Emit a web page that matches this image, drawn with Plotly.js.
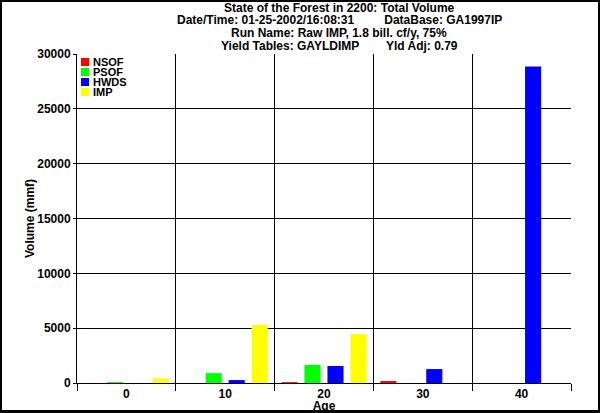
<!DOCTYPE html>
<html>
<head>
<meta charset="utf-8">
<script src="https://cdn.plot.ly/plotly-3.0.1.min.js"></script>
<style>
html,body{margin:0;padding:0;background:#fff;}
#wrap{position:relative;width:600px;height:413px;}
#chart{width:600px;height:413px;}
#frame{position:absolute;left:0;top:0;width:600px;height:413px;box-sizing:border-box;border-style:solid;border-color:#000;border-width:2px 2px 3px 2px;pointer-events:none;}
</style>
</head>
<body>
<div id="wrap"><div id="chart"></div><div id="frame"></div></div>
<script>
const ages = ['0', '10', '20', '30', '40'];
const seriesNames = ['NSOF', 'PSOF', 'HWDS', 'IMP'];
const NSOF = [0, 0, 80, 180, 0];
const PSOF = [80, 900, 1650, 0, 0];
const HWDS = [0, 270, 1550, 1270, 28850];
const IMP = [420, 5300, 4450, 0, 0];
const colors = ['#ff0000', '#00ff00', '#0000ff', '#ffff00'];
const titleLines = [
  'State of the Forest in 2200: Total Volume',
  'Date/Time: 01-25-2002/16:08:31\u00a0\u00a0\u00a0\u00a0\u00a0\u00a0\u00a0\u00a0\u00a0DataBase: GA1997IP',
  'Run Name: Raw IMP, 1.8 bill. cf/y, 75%',
  'Yield Tables: GAYLDIMP\u00a0\u00a0\u00a0\u00a0\u00a0\u00a0\u00a0\u00a0Yld Adj: 0.79'
];
const xTitle = 'Age';
const yTitle = 'Volume (mmf)';

const values = [NSOF, PSOF, HWDS, IMP];
const font = {family: 'Liberation Sans, Arial, sans-serif', size: 12, color: '#000', weight: 'bold'};
const legFont = {family: 'Liberation Sans, Arial, sans-serif', size: 11, color: '#000', weight: 'bold'};

const traces = seriesNames.map((n, i) => ({
  type: 'bar', name: n, x: ages, y: values[i],
  marker: {color: colors[i], line: {width: 0}},
  showlegend: false, hoverinfo: 'none'
}));

const annotations = [];
const shapes = [];
// title lines (plot area top at 54px, width 494px starting at 77px)
titleLines.forEach((t, i) => {
  annotations.push({
    xref: 'paper', yref: 'paper', x: (339 - 77) / 494, y: 1, yshift: 46.5 - i * 12.8,
    xanchor: 'center', yanchor: 'middle', showarrow: false, text: t, font: font
  });
});
// legend
seriesNames.forEach((n, i) => {
  shapes.push({
    type: 'rect', xref: 'paper', yref: 'paper',
    x0: 4 / 494, x1: 12 / 494, y0: 1 - (4 + i * 10 + 8) / 329, y1: 1 - (4 + i * 10) / 329,
    fillcolor: colors[i], line: {width: 0}
  });
  annotations.push({
    xref: 'paper', yref: 'paper', x: 14 / 494, y: 1 - (8 + i * 10) / 329,
    xanchor: 'left', yanchor: 'middle', showarrow: false, text: n,
    font: legFont
  });
});

const layout = {
  width: 600, height: 413,
  margin: {l: 77, r: 29, t: 54, b: 30, pad: 0},
  paper_bgcolor: '#fff', plot_bgcolor: '#fff',
  font: font,
  barmode: 'group', bargap: 0.07, bargroupgap: 0.3,
  showlegend: false,
  xaxis: {
    type: 'category', tickson: 'boundaries', ticks: 'outside', ticklen: 7, tickcolor: '#000', tickwidth: 1,
    showgrid: true, gridcolor: '#000', gridwidth: 1, showline: true, linecolor: '#000', linewidth: 1,
    tickfont: font, title: {text: xTitle, font: font, standoff: 0}, automargin: false
  },
  yaxis: {
    range: [0, 30000], dtick: 5000, tick0: 0, tickformat: 'd', ticks: 'outside', ticklen: 3, tickcolor: '#000',
    showgrid: true, gridcolor: '#000', gridwidth: 1, zeroline: true, zerolinecolor: '#000',
    showline: true, linecolor: '#000', linewidth: 1,
    tickfont: font, title: {text: yTitle, font: font, standoff: 0}, automargin: false
  },
  annotations: annotations,
  shapes: shapes
};

Plotly.newPlot('chart', traces, layout, {staticPlot: true, displayModeBar: false});
</script>
</body>
</html>
